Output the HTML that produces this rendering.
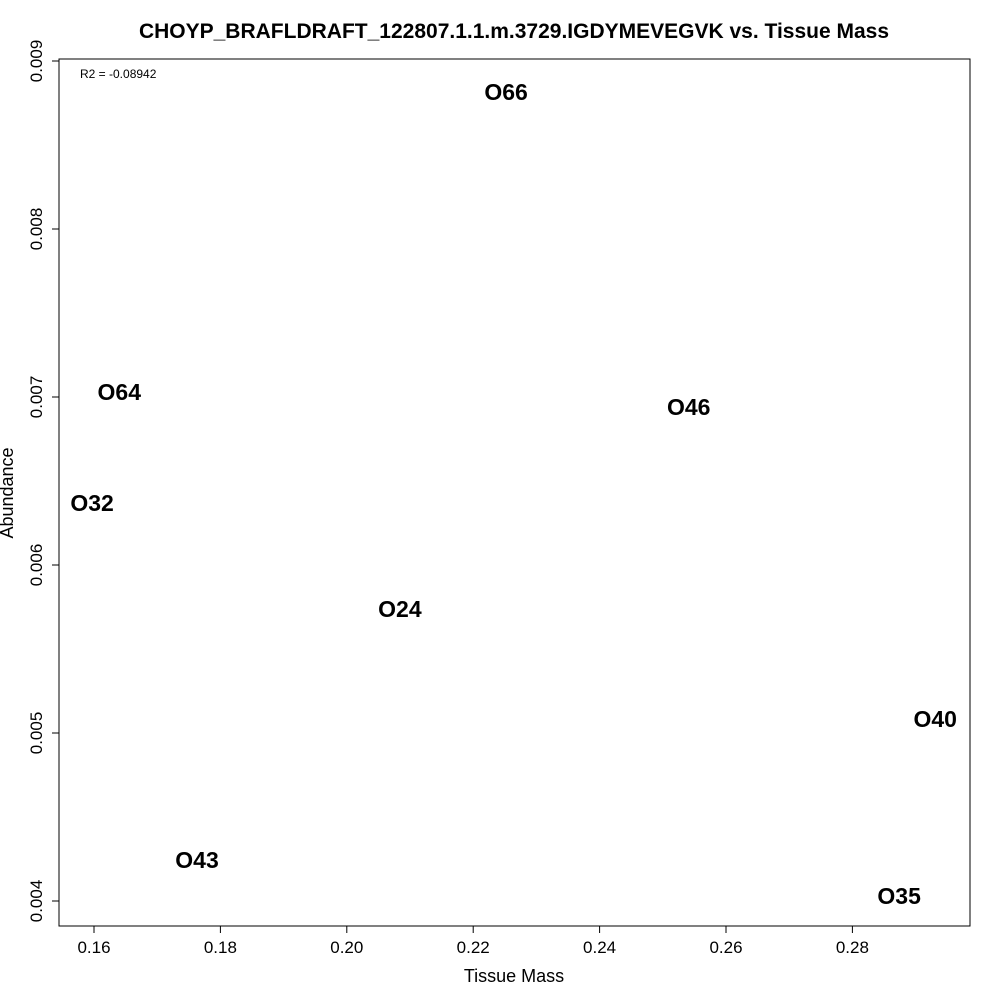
<!DOCTYPE html>
<html><head><meta charset="utf-8"><style>
body{margin:0;background:#fff;}
svg{display:block;font-family:"Liberation Sans",Arial,sans-serif;}
</style></head><body>
<svg id="chart" width="1000" height="1000" viewBox="0 0 1000 1000">
<rect x="0" y="0" width="1000" height="1000" fill="#fff"/>
<text x="514" y="38" text-anchor="middle" font-size="21" font-weight="bold">CHOYP_BRAFLDRAFT_122807.1.1.m.3729.IGDYMEVEGVK vs. Tissue Mass</text>
<rect x="59" y="59" width="911" height="867" fill="none" stroke="#000" stroke-width="1"/>
<text x="80" y="78" font-size="12">R2 = -0.08942</text>
<text x="514" y="982" text-anchor="middle" font-size="18">Tissue Mass</text>
<text transform="translate(13,493) rotate(-90)" text-anchor="middle" font-size="18">Abundance</text>
<g id="xaxis"></g>
<g id="yaxis"></g>
<g id="points"></g>
</svg>
<script>
const sampleNames = ["O66","O64","O32","O46","O24","O40","O43","O35"];
const tissueMass = [0.2252,0.1640,0.1597,0.2541,0.2084,0.2931,0.1763,0.2874];
const abundance = [0.008815,0.007030,0.006369,0.006940,0.005738,0.005083,0.004244,0.004030];
const xTicks = [0.16,0.18,0.20,0.22,0.24,0.26,0.28];
const xTickLabels = ["0.16","0.18","0.20","0.22","0.24","0.26","0.28"];
const yTicks = [0.004,0.005,0.006,0.007,0.008,0.009];
const yTickLabels = ["0.004","0.005","0.006","0.007","0.008","0.009"];

const NS="http://www.w3.org/2000/svg";
function xs(v){return 94+(v-0.16)*6320;}
function ys(v){return 901-(v-0.004)*168000;}
function mk(tag,attrs,parent,text){const e=document.createElementNS(NS,tag);for(const k in attrs)e.setAttribute(k,attrs[k]);if(text!==undefined)e.textContent=text;parent.appendChild(e);return e;}

const xg=document.getElementById('xaxis');
mk('line',{x1:xs(xTicks[0]),x2:xs(xTicks[xTicks.length-1]),y1:926,y2:926,stroke:'#000'},xg);
xTicks.forEach((t,i)=>{
  const l=mk('line',{x1:xs(t),x2:xs(t),y1:926,y2:933,stroke:'#000'},xg);
  
  
  const tx=mk('text',{x:xs(t),y:953,'text-anchor':'middle','font-size':17},xg,xTickLabels[i]);
  
  
});
const yg=document.getElementById('yaxis');
mk('line',{x1:59,x2:59,y1:ys(yTicks[0]),y2:ys(yTicks[yTicks.length-1]),stroke:'#000'},yg);
yTicks.forEach((t,i)=>{
  const l=mk('line',{x1:52,x2:59,y1:ys(t),y2:ys(t),stroke:'#000'},yg);
  
  
  const tx=mk('text',{x:0,y:0,'text-anchor':'middle','font-size':17,transform:`translate(42,${ys(t)}) rotate(-90)`},yg,yTickLabels[i]);
  
  
});
const pg=document.getElementById('points');
sampleNames.forEach((n,i)=>{
  const tx=mk('text',{x:xs(tissueMass[i]),y:ys(abundance[i])+8,'text-anchor':'middle','font-size':23,'font-weight':'bold'},pg,n);
  
  
});
</script>
</body></html>
